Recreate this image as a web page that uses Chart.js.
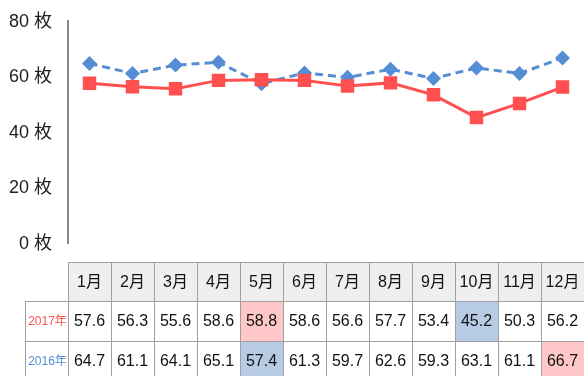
<!DOCTYPE html>
<html>
<head>
<meta charset="utf-8">
<script src="https://cdn.jsdelivr.net/npm/chart.js@4"></script>
<style>
  html, body { margin: 0; padding: 0; background: #fff; overflow: hidden; }
  #wrap { width: 584px; height: 376px; overflow: hidden; }
</style>
</head>
<body>
<div id="wrap"><canvas id="monthlyChart" width="584" height="376"></canvas></div>
<script>
// Monthly counts (枚)
const months = ['1月', '2月', '3月', '4月', '5月', '6月', '7月', '8月', '9月', '10月', '11月', '12月'];
const sales2017 = [57.6, 56.3, 55.6, 58.6, 58.8, 58.6, 56.6, 57.7, 53.4, 45.2, 50.3, 56.2];
const sales2016 = [64.7, 61.1, 64.1, 65.1, 57.4, 61.3, 59.7, 62.6, 59.3, 63.1, 61.1, 66.7];
const yTicks = [0, 20, 40, 60, 80];

const RED = '#ff4f4f';
const BLUE = '#558ed5';
const FONT = '"Liberation Sans", "Noto Sans CJK JP", sans-serif';

// Data table under the plot, columns follow the x scale
const tablePlugin = {
    id: 'dataTable',
    afterDraw(chart) {
        const ctx = chart.ctx;
        const xs = chart.scales.x;
        const step = xs.getPixelForValue(1) - xs.getPixelForValue(0);
        const left = xs.getPixelForValue(0) - step / 2;
        const right = xs.getPixelForValue(months.length - 1) + step / 2;
        const labelLeft = 25;
        const rowTops = [262, 301, 341, 381];
        const rows = [
            { name: '2017年', color: RED, values: sales2017 },
            { name: '2016年', color: BLUE, values: sales2016 }
        ];

        ctx.save();

        // header background
        ctx.fillStyle = '#efefef';
        ctx.fillRect(left, rowTops[0], right - left, rowTops[1] - rowTops[0]);

        // max / min highlights
        rows.forEach((row, r) => {
            const hi = row.values.indexOf(Math.max(...row.values));
            const lo = row.values.indexOf(Math.min(...row.values));
            const top = rowTops[r + 1];
            const h = rowTops[r + 2] - top;
            ctx.fillStyle = '#ffc7c7';
            ctx.fillRect(xs.getPixelForValue(hi) - step / 2, top, step, h);
            ctx.fillStyle = '#b7cce4';
            ctx.fillRect(xs.getPixelForValue(lo) - step / 2, top, step, h);
        });

        // grid
        ctx.strokeStyle = '#a0a0a0';
        ctx.lineWidth = 1;
        ctx.beginPath();
        ctx.moveTo(left, rowTops[0] + 0.5);
        ctx.lineTo(right, rowTops[0] + 0.5);
        ctx.moveTo(labelLeft, rowTops[1] + 0.5);
        ctx.lineTo(right, rowTops[1] + 0.5);
        ctx.moveTo(labelLeft, rowTops[2] + 0.5);
        ctx.lineTo(right, rowTops[2] + 0.5);
        ctx.moveTo(labelLeft + 0.5, rowTops[1]);
        ctx.lineTo(labelLeft + 0.5, rowTops[3]);
        for (let i = 0; i <= months.length; i++) {
            const x = Math.round(left + i * step) + 0.5;
            ctx.moveTo(x, rowTops[0]);
            ctx.lineTo(x, rowTops[3]);
        }
        ctx.stroke();

        // header text
        ctx.textAlign = 'center';
        ctx.textBaseline = 'middle';
        ctx.fillStyle = '#111';
        ctx.font = '16px ' + FONT;
        months.forEach((m, i) => {
            ctx.fillText(m, xs.getPixelForValue(i), (rowTops[0] + rowTops[1]) / 2 + 1);
        });

        // rows
        rows.forEach((row, r) => {
            const cy = (rowTops[r + 1] + rowTops[r + 2]) / 2 + 1;
            ctx.font = '12px ' + FONT;
            ctx.fillStyle = row.color;
            ctx.fillText(row.name, (labelLeft + left) / 2 + 1, cy);
            ctx.font = '16px ' + FONT;
            ctx.fillStyle = '#111';
            row.values.forEach((v, i) => {
                ctx.fillText(v.toFixed(1), xs.getPixelForValue(i), cy);
            });
        });

        ctx.restore();
    }
};

new Chart(document.getElementById('monthlyChart'), {
    type: 'line',
    data: {
        labels: months,
        datasets: [
            {
                label: '2017年',
                data: sales2017,
                borderColor: RED,
                backgroundColor: RED,
                borderWidth: 3,
                pointStyle: 'rect',
                pointRadius: 9.5,
                pointBorderWidth: 0,
                tension: 0
            },
            {
                label: '2016年',
                data: sales2016,
                borderColor: BLUE,
                backgroundColor: BLUE,
                borderWidth: 3,
                borderDash: [8, 5],
                pointStyle: 'rectRot',
                pointRadius: 7.5,
                pointBorderWidth: 0,
                tension: 0
            }
        ]
    },
    options: {
        responsive: false,
        animation: false,
        // the last table column runs past the right edge
        layout: {
            autoPadding: false,
            padding: { top: 21, bottom: 133, left: 0, right: -5 }
        },
        plugins: {
            legend: { display: false },
            tooltip: { enabled: false }
        },
        scales: {
            x: {
                display: false,
                offset: true
            },
            y: {
                min: yTicks[0],
                max: yTicks[yTicks.length - 1],
                afterBuildTicks: (scale) => {
                    scale.ticks = yTicks.map(v => ({ value: v }));
                },
                afterFit: (scale) => {
                    scale.width = 68;
                    // plot edges come from layout.padding only
                    scale.paddingTop = 0;
                    scale.paddingBottom = 0;
                },
                grid: { display: false, drawTicks: false },
                border: { display: true, color: '#888', width: 2 },
                ticks: {
                    padding: 16,
                    labelOffset: 1,
                    color: '#222',
                    font: { size: 18, family: FONT },
                    callback: (v) => v + ' 枚'
                }
            }
        }
    },
    plugins: [tablePlugin]
});
</script>
</body>
</html>
